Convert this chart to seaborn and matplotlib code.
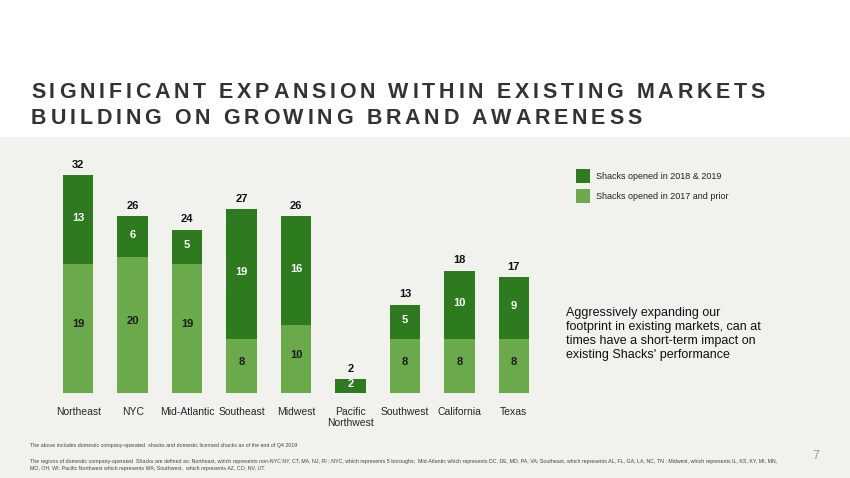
import matplotlib
matplotlib.use("Agg")
import matplotlib.pyplot as plt
import seaborn as sns
import pandas as pd

regions = ["Northeast", "NYC", "Mid-Atlantic", "Southeast", "Midwest",
           "Pacific\nNorthwest", "Southwest", "California", "Texas"]
prior = [19, 20, 19, 8, 10, 0, 8, 8, 8]
new = [13, 6, 5, 19, 16, 2, 5, 10, 9]
totals = [p + n for p, n in zip(prior, new)]

DARK = "#2D7A1F"
LIGHT = "#6BAA4B"
BG = "#F1F1ED"

sns.set_theme(style="white")
plt.rcParams["font.family"] = ["Liberation Sans", "DejaVu Sans"]

fig = plt.figure(figsize=(8.5, 4.78), dpi=100)
fig.patch.set_facecolor("white")
fig.add_artist(plt.Rectangle((0, 0), 1, 1 - 137 / 478, transform=fig.transFigure,
                             facecolor=BG, edgecolor="none", zorder=0))


def tracked_text(x_px, y_px, s, size, track_px):
    # draw a string letter by letter with extra letter spacing
    r = fig.canvas.get_renderer()
    x = x_px
    for ch in s:
        t = fig.text(x / 850, 1 - y_px / 478, ch, fontsize=size, fontweight="bold",
                     color="#333333", va="center")
        w = t.get_window_extent(r).width if ch != " " else size * 0.35
        x += w + track_px


tracked_text(31, 92, "SIGNIFICANT EXPANSION WITHIN EXISTING MARKETS", 15.5, 3.8)
tracked_text(31, 119, "BUILDING ON GROWING BRAND AWARENESS", 15.5, 3.8)

df = pd.DataFrame({"region": regions, "prior": prior, "new": new, "total": totals})

ax = fig.add_axes([51 / 850, 1 - 393 / 478, 490 / 850, 238 / 478])
ax.set_facecolor("none")
sns.barplot(data=df, x="region", y="total", color=DARK, width=0.56, saturation=1,
            linewidth=0, ax=ax)
sns.barplot(data=df, x="region", y="prior", color=LIGHT, width=0.56, saturation=1,
            linewidth=0, ax=ax)
ax.set_ylim(0, 35)
ax.set_xlim(-0.5, 8.5)
ax.set_xlabel("")
ax.set_ylabel("")
ax.set_yticks([])
ax.tick_params(axis="x", length=0, labelsize=7.5, pad=10)
for s in ax.spines.values():
    s.set_visible(False)

for i, (p, n, t) in enumerate(zip(prior, new, totals)):
    ax.text(i, t + 0.8, str(t), ha="center", va="bottom", fontsize=8,
            fontweight="bold", color="#111111")
    ax.text(i, p + n / 2 + 0.3, str(n), ha="center", va="center", fontsize=8,
            fontweight="bold", color="white")
    if p:
        ax.text(i, p / 2 + 0.6, str(p), ha="center", va="center", fontsize=8,
                fontweight="bold", color="#1a1a1a")

# legend
for y, c, lab in [(176, DARK, "Shacks opened in 2018 & 2019"),
                  (196, LIGHT, "Shacks opened in 2017 and prior")]:
    fig.add_artist(plt.Rectangle((576 / 850, 1 - (y + 7) / 478), 14 / 850, 14 / 478,
                                 transform=fig.transFigure, facecolor=c, edgecolor="none"))
    fig.text(596 / 850, 1 - y / 478, lab, fontsize=6.5, va="center", color="#222222")

fig.text(566 / 850, 1 - 334 / 478,
         "Aggressively expanding our\nfootprint in existing markets, can at\n"
         "times have a short-term impact on\nexisting Shacks' performance",
         fontsize=9, va="center", ha="left", color="#111111", linespacing=1.25)

fig.text(30 / 850, 1 - 446 / 478,
         "The above includes domestic company-operated  shacks and domestic licensed shacks as of the end of Q4 2019",
         fontsize=3.8, color="#444444", va="center")
fig.text(30 / 850, 1 - 465 / 478,
         "The regions of domestic company-operated  Shacks are defined as: Northeast, which represents non-NYC NY, CT, MA, NJ, RI ; "
         "NYC, which represents 5 boroughs;  Mid-Atlantic which represents DC, DE, MD, PA, VA; Southeast, which represents AL, FL, GA, LA, NC, TN ; "
         "Midwest, which represents IL, KS, KY, MI, MN,\nMO, OH, WI; Pacific Northwest which represents WA; Southwest,  which represents AZ, CO, NV, UT.",
         fontsize=3.8, color="#444444", va="center", linespacing=1.3)
fig.text(812 / 850, 1 - 456 / 478, "7", fontsize=9, color="#999999", va="center")

fig.savefig("out.png", dpi=100, facecolor=fig.get_facecolor())
